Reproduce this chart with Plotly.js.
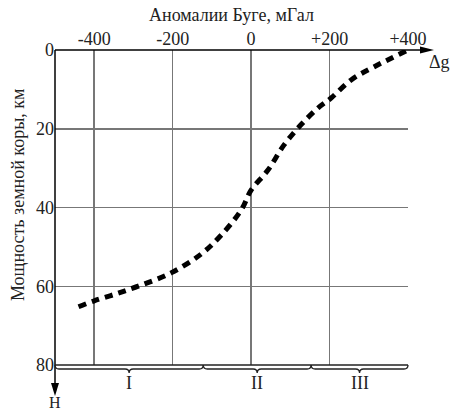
<!DOCTYPE html>
<html><head><meta charset="utf-8">
<script src="https://cdn.plot.ly/plotly-3.0.1.min.js"></script>
<style>html,body{margin:0;padding:0;background:#fff;}#chart{width:450px;height:410px;}</style>
</head><body><div id="chart"></div>
<script>
// Bouguer anomaly (mGal) vs crustal thickness (km)
const anomaly = [-440, -400, -340, -280, -204, -127, -76, -25, 0, 43, 84, 127, 171, 204, 255, 313, 400];
const thickness = [65.2, 63.7, 61.8, 59.7, 56.6, 51.8, 47.0, 40.6, 35.6, 30.5, 24.1, 19.0, 14.7, 12.2, 7.6, 4.3, 0];
const xTickVals = [-400, -200, 0, 200, 400];
const xTickText = ['-400', '-200', '0', '+200', '+400'];
const yTickVals = [0, 20, 40, 60, 80];
const zoneBounds = [-500, -122, 153, 400];
const zoneLabels = ['I', 'II', 'III'];
const xRange = [-500, 400];

const FONT = 'Liberation Serif';
const px2x = v => (v - xRange[0]) / (xRange[1] - xRange[0]);
const W = 353, H = 315;

const shapes = [];
// top axis line with arrow
shapes.push({type:'line', xref:'paper', yref:'paper', x0:0, x1:(422-55)/W, y0:1, y1:1, line:{color:'#000', width:1.5}});
shapes.push({type:'path', xref:'paper', yref:'paper', fillcolor:'#000', line:{color:'#000', width:0},
  path:`M ${(420-55)/W} ${1+3.5/H} L ${(434-55)/W} 1 L ${(420-55)/W} ${1-3.5/H} Z`});
// left axis line with arrow
shapes.push({type:'line', xref:'paper', yref:'paper', x0:0, x1:0, y0:1, y1:-(386-365)/H, line:{color:'#000', width:1.5}});
shapes.push({type:'path', xref:'paper', yref:'paper', fillcolor:'#000', line:{color:'#000', width:0},
  path:`M ${-4/W} ${-(383-365)/H} L 0 ${-(396-365)/H} L ${4/W} ${-(383-365)/H} Z`});
// bottom line
shapes.push({type:'line', xref:'paper', yref:'paper', x0:0, x1:1, y0:0, y1:0, line:{color:'#222', width:1.5}});
// braces
const annotations = [];
for (let i = 0; i < zoneLabels.length; i++) {
  const a = px2x(zoneBounds[i]), b = px2x(zoneBounds[i+1]), m = (a+b)/2;
  const dx = 4/W, y1 = -4/H, y2 = -8/H;
  shapes.push({type:'path', xref:'paper', yref:'paper', line:{color:'#222', width:1.3},
    path:`M ${a} 0 Q ${a} ${y1} ${a+dx} ${y1} L ${m-dx} ${y1} Q ${m} ${y1} ${m} ${y2} Q ${m} ${y1} ${m+dx} ${y1} L ${b-dx} ${y1} Q ${b} ${y1} ${b} 0`});
  annotations.push({xref:'paper', yref:'paper', x:m, y:-(383-365)/H, text:zoneLabels[i], showarrow:false,
    xanchor:'center', yanchor:'middle', font:{family:FONT, size:18, color:'#222'}});
}
annotations.push({xref:'paper', yref:'paper', x:(231-55)/W, y:1+(50-15)/H, text:'Аномалии Буге, мГал', showarrow:false,
  xanchor:'center', yanchor:'middle', font:{family:FONT, size:18, color:'#222'}});
annotations.push({xref:'paper', yref:'paper', x:-(55-18)/W, y:(365-195)/H, text:'Мощность земной коры, км', showarrow:false, textangle:-90,
  xanchor:'center', yanchor:'middle', font:{family:FONT, size:18, color:'#222'}});
annotations.push({xref:'paper', yref:'paper', x:(439-55)/W, y:(365-62)/H, text:'Δg', showarrow:false,
  xanchor:'center', yanchor:'middle', font:{family:FONT, size:18, color:'#222'}});
annotations.push({xref:'paper', yref:'paper', x:0, y:-(402-365)/H, text:'H', showarrow:false,
  xanchor:'center', yanchor:'middle', font:{family:FONT, size:16, color:'#222'}});

const trace = {x: anomaly, y: thickness, type:'scatter', mode:'lines',
  line:{color:'#000', width:5, dash:'8px,6px', shape:'spline', smoothing:1}, hoverinfo:'skip'};

const layout = {
  width:450, height:410, margin:{l:55, r:42, t:50, b:45},
  paper_bgcolor:'#fff', plot_bgcolor:'#fff', showlegend:false,
  font:{family:FONT, size:18, color:'#222'},
  xaxis:{range:xRange, side:'top', tickvals:xTickVals, ticktext:xTickText, showgrid:true, gridcolor:'#777', gridwidth:1.5,
    zeroline:false, showline:false, ticks:'', tickfont:{family:FONT, size:18, color:'#222'}, fixedrange:true},
  yaxis:{range:[80, 0], tickvals:yTickVals, showgrid:true, gridcolor:'#777', gridwidth:1.5,
    zeroline:false, showline:false, ticks:'', tickfont:{family:FONT, size:18, color:'#222'}, fixedrange:true},
  shapes: shapes, annotations: annotations
};
Plotly.newPlot('chart', [trace], layout, {staticPlot:true, displayModeBar:false});
</script></body></html>
